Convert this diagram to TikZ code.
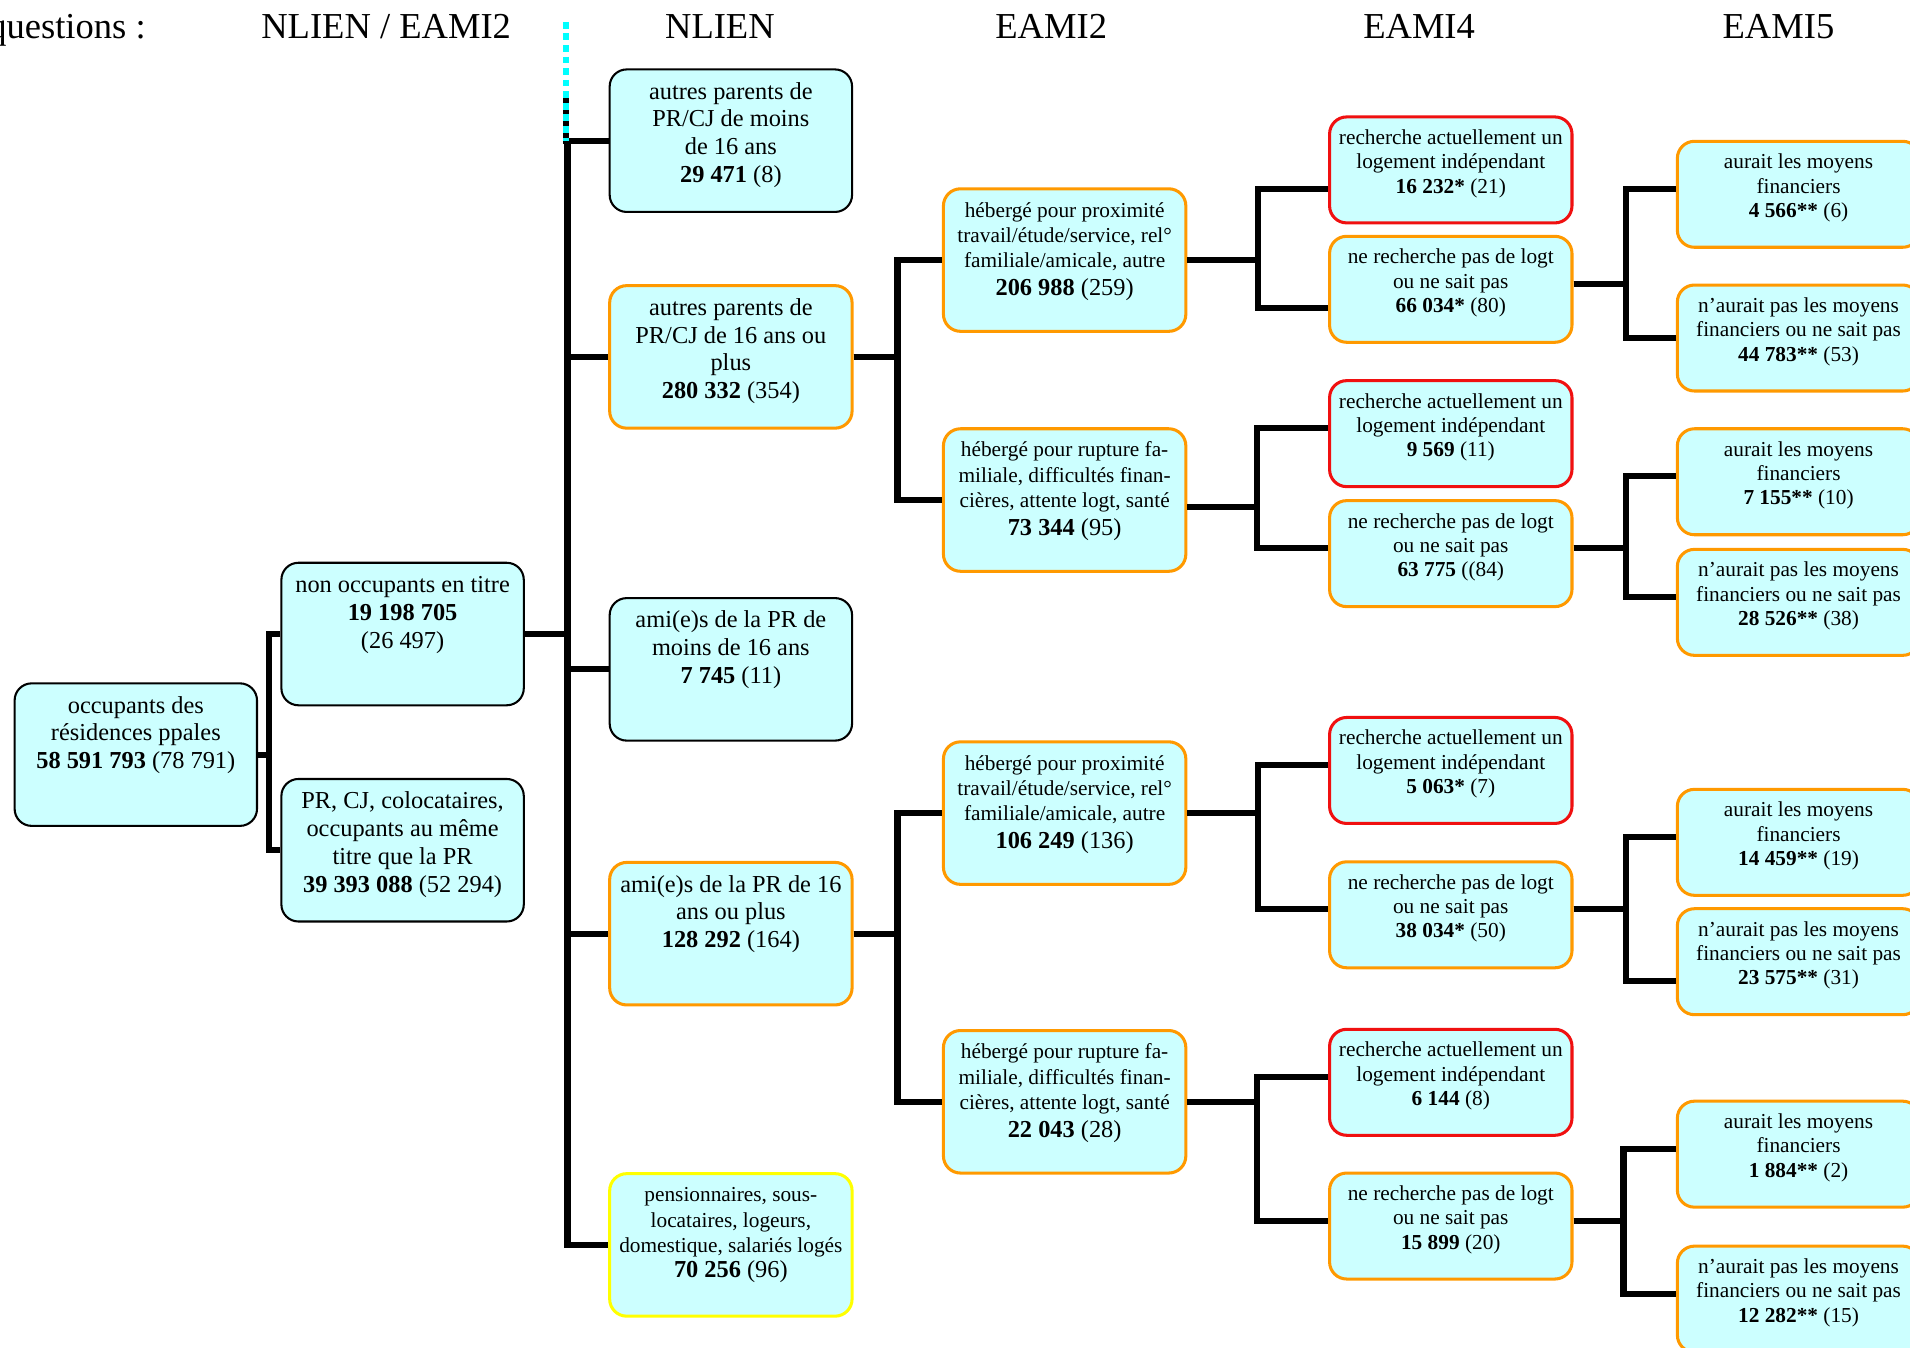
\documentclass[tikz,border=0pt]{standalone}
\usepackage{fontspec}
\setmainfont{Liberation Serif}
\definecolor{cellfill}{RGB}{204,255,255}
\definecolor{boxorange}{RGB}{255,153,0}
\definecolor{boxred}{RGB}{240,16,16}
\definecolor{boxyellow}{RGB}{255,255,0}
\definecolor{guidecyan}{RGB}{0,255,255}
\newcommand{\bigtally}[2]{{\fontsize{10}{11}\selectfont\textbf{#1} (#2)}}
\tikzset{
  cell/.style={draw, rounded corners=7pt, fill=cellfill, inner sep=0pt, minimum width=99.5pt},
  tall/.style={cell, minimum height=58.5pt,
    execute at begin node={\begin{minipage}[c][50pt][t]{99pt}\centering\fontsize{10}{11.4}\selectfont\leavevmode\strut},
    execute at end node={\end{minipage}}},
  tallfine/.style={cell, minimum height=58.5pt,
    execute at begin node={\begin{minipage}[c][49.9pt][t]{99pt}\centering\fontsize{8.75}{10.4}\selectfont\leavevmode\strut},
    execute at end node={\end{minipage}}},
  short/.style={cell, minimum height=43.5pt,
    execute at begin node={\begin{minipage}[c][35pt][t]{99pt}\centering\fontsize{8.75}{10}\selectfont\leavevmode\strut},
    execute at end node={\end{minipage}}},
  ink/.style={draw=black, line width=0.85pt},
  amber/.style={draw=boxorange, line width=1.25pt},
  alarm/.style={draw=boxred, line width=1.25pt},
  lemon/.style={draw=boxyellow, line width=1.25pt},
  head/.style={font=\fontsize{15}{18}\selectfont, anchor=base, inner sep=0pt},
  link/.style={line width=2.5pt},
  guideline/.style={draw=guidecyan, line width=2.5pt, dash pattern=on 2.75pt off 2pt}
}

\begin{document}
\begin{tikzpicture}[x=0.5pt, y=-0.5pt]
  \useasboundingbox (0,0) rectangle (1568,1106);
  % column heads
  \node[head, anchor=base east] (hq) at (120,32) {questions :};
  \node[head] (hroot) at (317,32) {NLIEN / EAMI2};
  \node[head] (hnlien) at (591,32) {NLIEN};
  \node[head] (heami2) at (863,32) {EAMI2};
  \node[head] (heami4) at (1165,32) {EAMI4};
  \node[head] (heami5) at (1460,32) {EAMI5};
  % NLIEN / EAMI2
  \node[tall, ink] (occ) at (111.5,619.5) {occupants des\\résidences ppales\\\textbf{58 591 793} (78 791)};
  \node[tall, ink] (nontit) at (330.5,520.5) {non occupants en titre\\\textbf{19 198 705}\\(26 497)};
  \node[tall, ink] (sametit) at (330.5,698) {PR, CJ, colocataires,\\occupants au même\\titre que la PR\\\textbf{39 393 088} (52 294)};
  % NLIEN
  \node[tall, ink] (parlt) at (600,115.5) {autres parents de\\PR/CJ de moins\\de 16 ans\\\textbf{29 471} (8)};
  \node[tall, amber] (parge) at (600,293) {autres parents de\\PR/CJ de 16 ans ou\\plus\\\textbf{280 332} (354)};
  \node[tall, ink] (amilt) at (600,549.5) {ami(e)s de la PR de\\moins de 16 ans\\\textbf{7 745} (11)};
  \node[tall, amber] (amige) at (600,766.5) {ami(e)s de la PR de 16\\ans ou plus\\\textbf{128 292} (164)};
  \node[tallfine, lemon] (pens) at (600,1022) {pensionnaires, sous-\\locataires, logeurs,\\domestique, salariés logés\\\bigtally{70 256}{96}};
  % EAMI2
  \node[tallfine, amber] (proxp) at (874,213.5) {hébergé pour proximité\\travail/étude/service, rel°\\familiale/amicale, autre\\[1.2pt]\bigtally{206 988}{259}};
  \node[tallfine, amber] (ruptp) at (874,410.5) {hébergé pour rupture fa-\\miliale, difficultés finan-\\cières, attente logt, santé\\[1.2pt]\bigtally{73 344}{95}};
  \node[tallfine, amber] (proxa) at (874,667.5) {hébergé pour proximité\\travail/étude/service, rel°\\familiale/amicale, autre\\[1.2pt]\bigtally{106 249}{136}};
  \node[tallfine, amber] (rupta) at (874,904.5) {hébergé pour rupture fa-\\miliale, difficultés finan-\\cières, attente logt, santé\\[1.2pt]\bigtally{22 043}{28}};
  % EAMI4
  \node[short, alarm] (seekpp) at (1191,139.5) {recherche actuellement un\\logement indépendant\\\textbf{16 232*} (21)};
  \node[short, amber] (noseekpp) at (1191,237.5) {ne recherche pas de logt\\ou ne sait pas\\\textbf{66 034*} (80)};
  \node[short, alarm] (seekrp) at (1191,356) {recherche actuellement un\\logement indépendant\\\textbf{9 569} (11)};
  \node[short, amber] (noseekrp) at (1191,454.5) {ne recherche pas de logt\\ou ne sait pas\\\textbf{63 775} ((84)};
  \node[short, alarm] (seekpa) at (1191,632.5) {recherche actuellement un\\logement indépendant\\\textbf{5 063*} (7)};
  \node[short, amber] (noseekpa) at (1191,751) {ne recherche pas de logt\\ou ne sait pas\\\textbf{38 034*} (50)};
  \node[short, alarm] (seekra) at (1191,888.5) {recherche actuellement un\\logement indépendant\\\textbf{6 144} (8)};
  \node[short, amber] (noseekra) at (1191,1006.5) {ne recherche pas de logt\\ou ne sait pas\\\textbf{15 899} (20)};
  % EAMI5
  \node[short, amber] (meanspp) at (1476.5,159.5) {aurait les moyens\\financiers\\\textbf{4 566**} (6)};
  \node[short, amber] (nomeanspp) at (1476.5,277.5) {n’aurait pas les moyens\\financiers ou ne sait pas\\\textbf{44 783**} (53)};
  \node[short, amber] (meansrp) at (1476.5,395.5) {aurait les moyens\\financiers\\\textbf{7 155**} (10)};
  \node[short, amber] (nomeansrp) at (1476.5,494.5) {n’aurait pas les moyens\\financiers ou ne sait pas\\\textbf{28 526**} (38)};
  \node[short, amber] (meanspa) at (1476.5,691.5) {aurait les moyens\\financiers\\\textbf{14 459**} (19)};
  \node[short, amber] (nomeanspa) at (1476.5,789.5) {n’aurait pas les moyens\\financiers ou ne sait pas\\\textbf{23 575**} (31)};
  \node[short, amber] (meansra) at (1476.5,947.5) {aurait les moyens\\financiers\\\textbf{1 884**} (2)};
  \node[short, amber] (nomeansra) at (1476.5,1066.5) {n’aurait pas les moyens\\financiers ou ne sait pas\\\textbf{12 282**} (15)};
  % connectors
  \draw[link] (occ.east) -- ++(9,0) |- (nontit.west);
  \draw[link] (occ.east) -- ++(9,0) |- (sametit.west);
  \coordinate (trunktop) at (465,76);
  \draw[link] (trunktop) |- (parlt.west);
  \draw[link] (nontit.east) -- ++(35,0) |- (parlt.west);
  \draw[link] (nontit.east) -- ++(35,0) |- (parge.west);
  \draw[link] (nontit.east) -- ++(35,0) |- (amilt.west);
  \draw[link] (nontit.east) -- ++(35,0) |- (amige.west);
  \draw[link] (nontit.east) -- ++(35,0) |- (pens.west);
  \coordinate (guidetop) at (465,18);
  \draw[guideline] (guidetop) -- (guidetop |- parlt.west);
  \draw[link] (parge.east) -- ++(36,0) |- (proxp.west);
  \draw[link] (parge.east) -- ++(36,0) |- (ruptp.west);
  \draw[link] (amige.east) -- ++(36,0) |- (proxa.west);
  \draw[link] (amige.east) -- ++(36,0) |- (rupta.west);
  \draw[link] (proxp.east) -- ++(58,0) |- ([yshift=-7.75pt]seekpp.west);
  \draw[link] (proxp.east) -- ++(58,0) |- ([yshift=-7.75pt]noseekpp.west);
  \draw[link] ([yshift=-2.75pt]ruptp.east) -- ++(57,0) |- ([yshift=2.2pt]seekrp.west);
  \draw[link] ([yshift=-2.75pt]ruptp.east) -- ++(57,0) |- ([yshift=2.2pt]noseekrp.west);
  \draw[link] (proxa.east) -- ++(58,0) |- ([yshift=2.2pt]seekpa.west);
  \draw[link] (proxa.east) -- ++(58,0) |- ([yshift=2.2pt]noseekpa.west);
  \draw[link] (rupta.east) -- ++(57,0) |- ([yshift=2.2pt]seekra.west);
  \draw[link] (rupta.east) -- ++(57,0) |- ([yshift=2.2pt]noseekra.west);
  \draw[link] ([yshift=2.2pt]noseekpp.east) -- ++(43,0) |- ([yshift=2.2pt]meanspp.west);
  \draw[link] ([yshift=2.2pt]noseekpp.east) -- ++(43,0) |- (nomeanspp.west);
  \draw[link] ([yshift=2.2pt]noseekrp.east) -- ++(43,0) |- ([yshift=2.2pt]meansrp.west);
  \draw[link] ([yshift=2.2pt]noseekrp.east) -- ++(43,0) |- ([yshift=2.2pt]nomeansrp.west);
  \draw[link] ([yshift=2.2pt]noseekpa.east) -- ++(43,0) |- ([yshift=2.2pt]meanspa.west);
  \draw[link] ([yshift=2.2pt]noseekpa.east) -- ++(43,0) |- ([yshift=-7.75pt]nomeanspa.west);
  \draw[link] ([yshift=2.2pt]noseekra.east) -- ++(41,0) |- ([yshift=2.2pt]meansra.west);
  \draw[link] ([yshift=2.2pt]noseekra.east) -- ++(41,0) |- ([yshift=2.2pt]nomeansra.west);
\end{tikzpicture}
\end{document}
